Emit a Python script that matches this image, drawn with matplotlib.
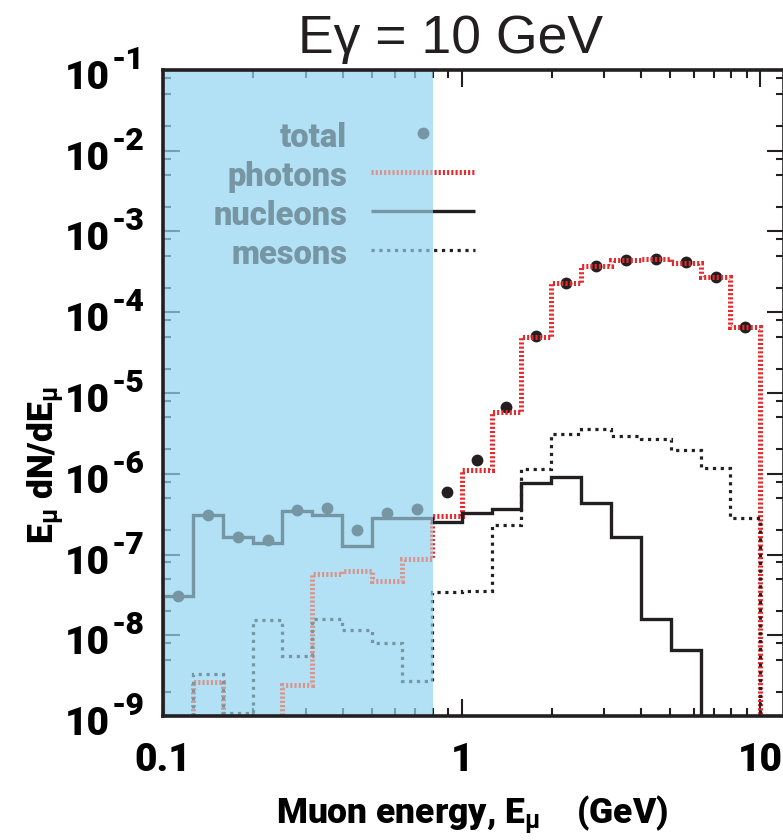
import numpy as np
import matplotlib
matplotlib.use("Agg")
import matplotlib.pyplot as plt
from matplotlib import font_manager, transforms
from matplotlib.patches import Rectangle
from matplotlib.ticker import LogLocator, NullFormatter

# ---------------------------------------------------------------- data
bin_edges = np.logspace(-1, 1, 21)          # 10 bins per decade, 0.1 - 10 GeV
total    = [3.1e-8, 3.05e-7, 1.63e-7, 1.5e-7, 3.6e-7, 3.8e-7, 2.0e-7, 3.3e-7, 3.7e-7, 5.9e-7,
            1.47e-6, 6.7e-6, 5.1e-5, 2.3e-4, 3.7e-4, 4.4e-4, 4.6e-4, 4.2e-4, 2.7e-4, 6.6e-5]
photons  = [0, 2.6e-9, 0, 0, 2.4e-9, 5.8e-8, 6.3e-8, 4.7e-8, 8.9e-8, 3.0e-7,
            1.1e-6, 5.8e-6, 4.9e-5, 2.3e-4, 3.7e-4, 4.4e-4, 4.6e-4, 4.1e-4, 2.7e-4, 6.6e-5]
nucleons = [3.1e-8, 3.05e-7, 1.63e-7, 1.38e-7, 3.5e-7, 3.05e-7, 1.26e-7, 2.8e-7, 2.8e-7, 2.5e-7,
            3.3e-7, 3.7e-7, 7.6e-7, 9.1e-7, 4.4e-7, 1.63e-7, 1.6e-8, 6.5e-9, 0, 0]
mesons   = [0, 3.3e-9, 1.1e-9, 1.55e-8, 5.6e-9, 1.6e-8, 1.15e-8, 8e-9, 2.7e-9, 3.4e-8,
            3.5e-8, 2.35e-7, 1.14e-6, 3.1e-6, 3.6e-6, 2.9e-6, 2.7e-6, 1.95e-6, 1.17e-6, 2.8e-7]

shade_range = (0.1, 0.8)                    # GeV, highlighted low-energy band
x_ticks = [0.1, 1, 10]
x_tick_labels = ["0.1", "1", "10"]
y_tick_exponents = list(range(1, 10))
legend_labels = ["total", "photons", "nucleons", "mesons"]
title = "E\u03b3 = 10 GeV"

# ---------------------------------------------------------------- fonts
avail = {f.name for f in font_manager.fontManager.ttflist}


def pick(names, default="DejaVu Sans"):
    for n in names:
        if n in avail:
            return n
    return default


BOLD = pick(["Liberation Sans Narrow", "Roboto", "Open Sans"])
PLAIN = pick(["Liberation Sans", "Arimo"])
HEAVY = "black" if BOLD == "Roboto" else "bold"
plt.rcParams["mathtext.fontset"] = "custom"
for k in ("rm", "it", "bf", "sf"):
    plt.rcParams[f"mathtext.{k}"] = f"{BOLD}:bold"

# ---------------------------------------------------------------- colours / styles
INK = "#231f20"
RED = "#e8282b"
INK_W = "#7696a4"      # ink seen through the shaded band
RED_W = "#d8948d"      # red seen through the shaded band
SHADE = (148 / 255, 213 / 255, 241 / 255)

hatch = dict(lw=3.6, linestyle=(0, (0.42, 0.42)))
dots = dict(lw=2.3, linestyle=(0, (1.0, 1.45)))
solid = dict(lw=2.4, linestyle="-")

# ---------------------------------------------------------------- figure
W, H = 783, 840
fig = plt.figure(figsize=(W / 100, H / 100), dpi=100)
ax = fig.add_axes([163 / W, 1 - 716 / H, 621 / W, 646 / H])
ax.set_xscale("log")
ax.set_yscale("log", nonpositive="clip")
ax.set_xlim(0.1, 12)
ax.set_ylim(1e-9, 1e-1)

ax.xaxis.set_major_locator(LogLocator(base=10, numticks=20))
ax.xaxis.set_minor_locator(LogLocator(base=10, subs=np.arange(2, 10), numticks=40))
ax.yaxis.set_major_locator(LogLocator(base=10, numticks=20))
ax.yaxis.set_minor_locator(LogLocator(base=10, subs=[2, 5, 8], numticks=40))
ax.xaxis.set_minor_formatter(NullFormatter())
ax.yaxis.set_minor_formatter(NullFormatter())
ax.tick_params(which="both", direction="in", top=True, right=True,
               labelbottom=False, labelleft=False, color=INK)
ax.tick_params(which="major", length=12.5, width=1.5)
ax.tick_params(which="minor", length=6, width=1.5)
for s in ax.spines.values():
    s.set_linewidth(2.6)
    s.set_color(INK)
    s.set_zorder(20)

# shaded band (sits above the ticks, below the curves)
ax.axvspan(*shade_range, color=SHADE, alpha=0.72, lw=0, zorder=5)

blend = transforms.blended_transform_factory(ax.transData, ax.transAxes)
inside = Rectangle((shade_range[0], 0), shade_range[1] - shade_range[0], 1, transform=blend)
outside = Rectangle((shade_range[1], 0), 100, 1, transform=blend)


def two_tone(make, color, washed):
    """Draw an element twice: plain outside the band, washed inside it."""
    for c, clip in ((color, outside), (washed, inside)):
        arts = make(c)
        if not isinstance(arts, (list, tuple)):
            arts = [arts]
        for a in arts:
            a.set_clip_path(clip)


centers = np.sqrt(bin_edges[:-1] * bin_edges[1:])

two_tone(lambda c: ax.plot(centers, total, "o", ms=8.5, mew=0, color=c, zorder=6), INK, INK_W)
two_tone(lambda c: ax.stairs(photons, bin_edges, baseline=0, color=c, zorder=7, **hatch), RED, RED_W)
two_tone(lambda c: ax.stairs(nucleons, bin_edges, baseline=0, color=c, zorder=8, **solid), INK, INK_W)
two_tone(lambda c: ax.stairs(mesons, bin_edges, baseline=0, color=c, zorder=9, **dots), INK, INK_W)

# ---------------------------------------------------------------- legend
lx_text = 0.2963
base_y = [0.8808, 0.8204, 0.7601, 0.6997]
key_dy = 0.0210
kx0, kx1 = 0.335, 0.5024
for lab, by in zip(legend_labels, base_y):
    ax.text(lx_text, by, lab, transform=ax.transAxes, ha="right", va="baseline",
            fontsize=23.5, family=BOLD, weight=HEAVY, color=INK_W, zorder=6)

two_tone(lambda c: ax.plot([0.4187], [base_y[0] + key_dy], "o", ms=8.5, mew=0, color=c,
                           transform=ax.transAxes, zorder=6), INK, INK_W)
two_tone(lambda c: ax.plot([kx0, kx1], [base_y[1] + key_dy] * 2, color=c, solid_capstyle="butt",
                           dash_capstyle="butt", transform=ax.transAxes, zorder=7, **hatch), RED, RED_W)
two_tone(lambda c: ax.plot([kx0, kx1], [base_y[2] + key_dy] * 2, color=c, solid_capstyle="butt",
                           transform=ax.transAxes, zorder=8, **solid), INK, INK_W)
two_tone(lambda c: ax.plot([kx0, kx1], [base_y[3] + key_dy] * 2, color=c, dash_capstyle="butt",
                           transform=ax.transAxes, zorder=9, **dots), INK, INK_W)

# ---------------------------------------------------------------- tick labels
ytr = transforms.blended_transform_factory(fig.transFigure, ax.transData)
down = transforms.ScaledTranslation(0, -19 / 100, fig.dpi_scale_trans)
up = transforms.ScaledTranslation(0, 1 / 100, fig.dpi_scale_trans)
for n in y_tick_exponents:
    v = 10.0 ** -n
    fig.text(110 / W, v, "10", transform=ytr + down, ha="right", va="baseline",
             fontsize=28, family=BOLD, weight=HEAVY, color="black")
    fig.text(112 / W, v, f"-{n}", transform=ytr + up, ha="left", va="baseline",
             fontsize=23, family=BOLD, weight=HEAVY, color="black")

xtr = transforms.blended_transform_factory(ax.transData, fig.transFigure)
for xv, lab in zip(x_ticks, x_tick_labels):
    fig.text(xv, 1 - 771 / H, lab, transform=xtr, ha="center", va="baseline",
             fontsize=28, family=BOLD, weight=HEAVY, color="black")

# ---------------------------------------------------------------- axis titles
fig.text(472 / W, 1 - 823 / H, r"Muon energy, E$_\mu$    (GeV)", ha="center", va="baseline",
         fontsize=25.5, family=BOLD, weight=HEAVY, color="black")
fig.text(45.5 / W, 375 / H, r"E$_\mu$ dN/dE$_\mu$", rotation=90, ha="center", va="center",
         fontsize=25.5, family=BOLD, weight=HEAVY, color="black")
fig.text(298 / W, 1 - 53 / H, title, ha="left", va="baseline",
         fontsize=38.5, family=PLAIN, color=INK)

fig.savefig("out.png", dpi=100)
